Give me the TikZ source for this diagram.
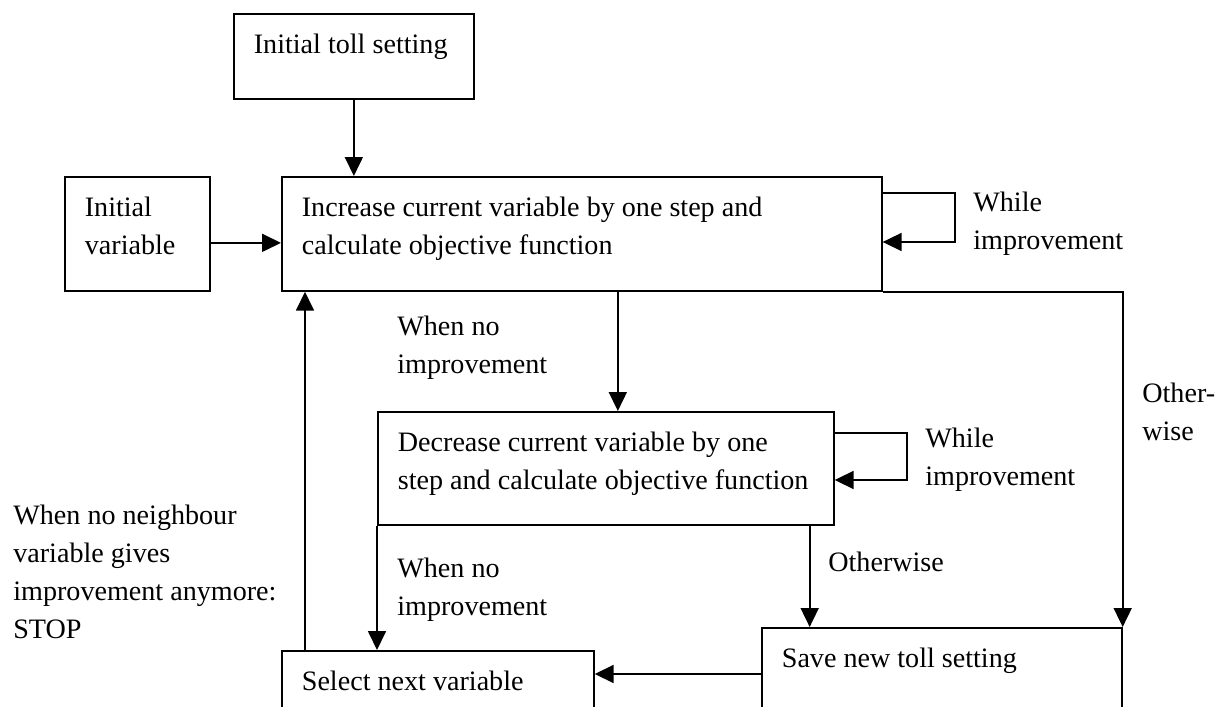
\documentclass[tikz,border=0pt]{standalone}
\usepackage{fontspec}
\setmainfont{Liberation Serif}
\usetikzlibrary{arrows.meta}
\begin{document}
\begin{tikzpicture}[
    x=0.02cm, y=-0.02cm,
    font=\fontsize{16}{21.6}\selectfont,
    box/.style={draw, line width=1pt, anchor=north west, align=flush left, inner xsep=0.4cm, inner ysep=0pt, text height=0.8cm},
    lbl/.style={anchor=north west, align=flush left, inner sep=0pt, text height=0.4cm, text width=6cm},
    arr/.style={line width=1pt, -{Triangle[length=0.38cm, width=0.36cm]}}
]
\useasboundingbox (0,0) rectangle (1216,706);

% Boxes
\node[box, text width=4cm, text depth=0.9cm] (toll) at (233,13) {Initial toll setting};
\node[box, text width=2.1cm, text depth=1.48cm] (var) at (64,176) {Initial\\variable};
\node[box, text width=11.2cm, text depth=1.48cm] (inc) at (281,176) {Increase current variable by one step and\\calculate objective function};
\node[box, text width=8.32cm, text depth=1.46cm] (dec) at (377,411) {Decrease current variable by one\\step and calculate objective function};
\node[box, text width=6.4cm, text depth=1.48cm] (save) at (761,627) {Save new toll setting};
\node[box, text width=5.44cm, text depth=1.48cm] (sel) at (281,650) {Select next variable};

% Labels
\node[lbl] (incw) at (973,191) {While\\improvement};
\node[lbl] (other) at (1142,382) {Other-\\wise};
\node[lbl] (incno) at (397,315) {When no\\improvement};
\node[lbl] (decw) at (925,427) {While\\improvement};
\node[lbl] (decno) at (397,557) {When no\\improvement};
\node[lbl] (decother) at (828,551) {Otherwise};
\node[lbl] (stop) at (13,504) {When no neighbour\\variable gives\\improvement anymore:\\STOP};

% Into the increase step
\draw[arr] (toll.south) -- (toll.south |- inc.north);
\draw[arr] ([yshift=-0.18cm]var.east) -- ([yshift=-0.18cm]var.east -| inc.west);
\draw[arr] ([yshift=-0.34cm]inc.north east) -- ++(1.44cm,0) |- ([yshift=-1.32cm]inc.north east);

% Out of the increase step
\draw[arr] (inc.south east) -| (save.north east);
\draw[arr] ([xshift=0.24cm]dec.north |- inc.south) -- ([xshift=0.24cm]dec.north);

% Out of the decrease step
\draw[arr] ([yshift=-0.44cm]dec.north east) -- ++(1.44cm,0) |- ([yshift=-1.38cm]dec.north east);
\draw[arr] (dec.south west) -- (dec.south west |- sel.north);
\draw[arr] ([xshift=-0.5cm]dec.south east) -- ([xshift=-0.5cm]dec.south east |- save.north);

% Back round
\draw[arr] ([yshift=-0.94cm]save.north west) -- ([yshift=-0.94cm]save.north west -| sel.east);
\draw[arr] ([xshift=0.48cm]sel.north west) -- ([xshift=0.48cm]sel.north west |- inc.south);
\end{tikzpicture}
\end{document}
